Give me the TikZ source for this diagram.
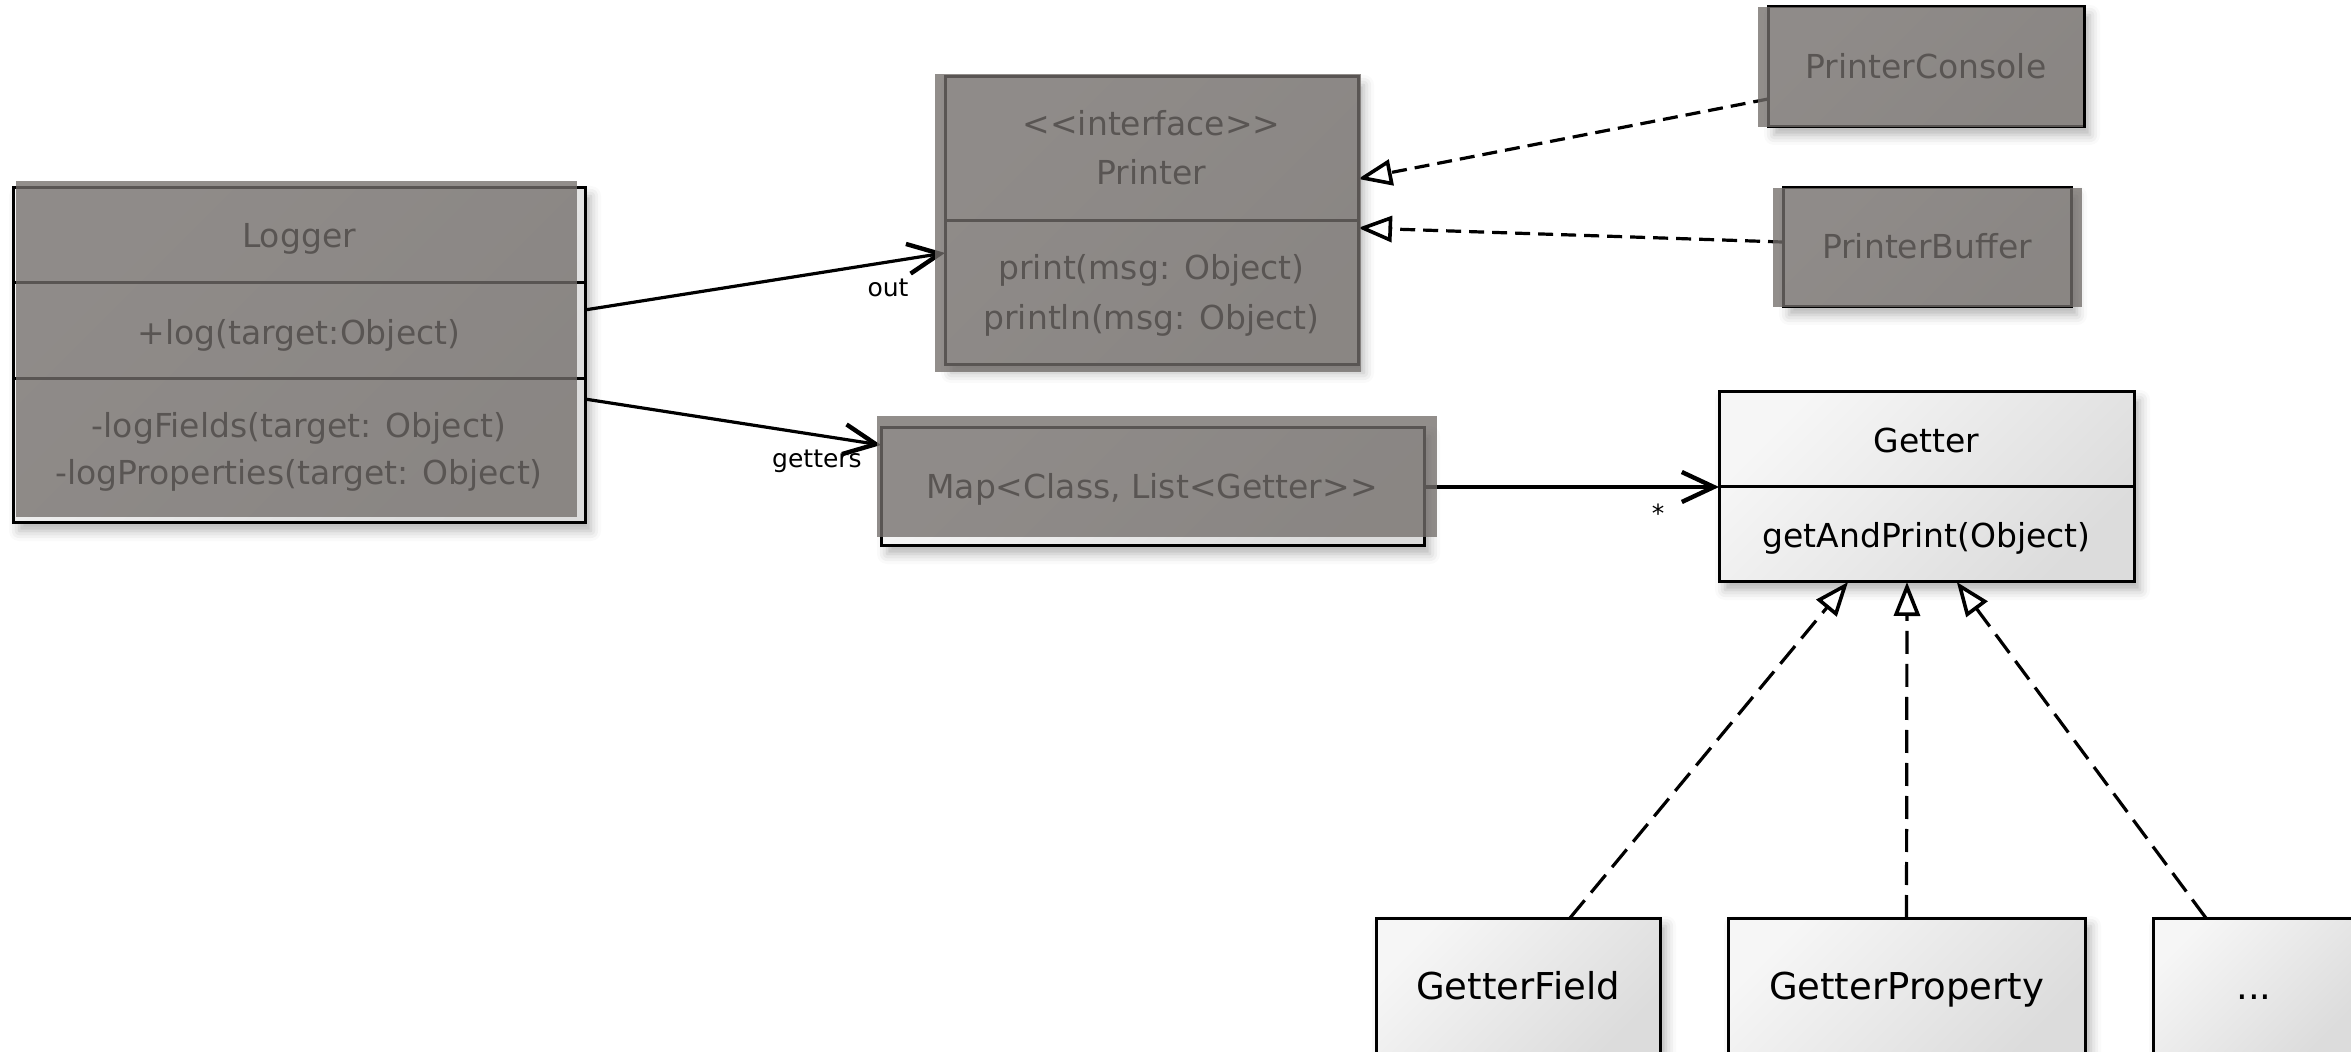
\documentclass[tikz,border=0pt]{standalone}
\usepackage{fontspec}
\setmainfont{DejaVu Sans}
\usetikzlibrary{arrows.meta,calc,shadows.blur}

\definecolor{hilite}{RGB}{115,110,107}
\definecolor{boxlight}{RGB}{246,246,246}
\definecolor{boxdark}{RGB}{220,220,220}

\tikzset{
  umlbox/.style={draw=black, line width=1.5pt, rectangle, inner sep=0pt, outer sep=0pt,
    top color=boxlight, bottom color=boxdark, shading angle=45,
    blur shadow={shadow xshift=3pt, shadow yshift=-4pt, shadow blur radius=5pt, shadow opacity=30}},
  divider/.style={line width=1.5pt},
  txt/.style={anchor=base, inner sep=0pt, font=\fontsize{16.5}{20}\selectfont},
  bigtxt/.style={anchor=base, inner sep=0pt, font=\fontsize{18.5}{22}\selectfont},
  lbl/.style={anchor=base, inner sep=0pt, font=\fontsize{12.5}{15}\selectfont},
  assoc/.style={line width=1.6pt, -{Straight Barb[length=16pt,width=15pt,line width=2.2pt]}},
  realize/.style={line width=1.6pt, dash pattern=on 7.5pt off 4pt,
    -{Triangle[length=17pt,width=13pt,fill=white,line width=1.8pt]}},
  realizelong/.style={realize, dash pattern=on 11.5pt off 5pt},
  hilite/.style={fill=hilite, fill opacity=0.78},
}

\begin{document}
\begin{tikzpicture}[x=0.5pt,y=-0.5pt]
\useasboundingbox (0,0) rectangle (2351,1052);
\begin{scope}
\clip (0,0) rectangle (2351,1052);

% ---- class boxes ----
\node[umlbox, minimum width=286pt, minimum height=167.5pt] (logger) at (299,355.5) {};
\node[umlbox, minimum width=206.5pt, minimum height=144pt] (printer) at (1151.5,221) {};
\node[umlbox, minimum width=158pt, minimum height=60pt] (console) at (1926,67) {};
\node[umlbox, minimum width=144pt, minimum height=59.5pt] (buffer) at (1927,247.5) {};
\node[umlbox, minimum width=271.5pt, minimum height=59pt] (map) at (1152.5,487) {};
\node[umlbox, minimum width=207.5pt, minimum height=95pt] (getter) at (1926.5,487) {};
\node[umlbox, minimum width=142pt, minimum height=70pt] (gfield) at (1518,988) {};
\node[umlbox, minimum width=178.5pt, minimum height=70pt] (gprop) at (1906.5,988) {};
\node[umlbox, minimum width=101pt, minimum height=70pt] (gdots) at (2254,988) {};

% ---- compartment dividers ----
\draw[divider] (logger.west |- 0,283) -- (logger.east |- 0,283);
\draw[divider] (logger.west |- 0,379) -- (logger.east |- 0,379);
\draw[divider] (printer.west) -- (printer.east);
\draw[divider] (getter.west) -- (getter.east);

% ---- texts ----
\node[txt] (loggerName) at (299,248) {Logger};
\node[txt] (loggerLog) at (299,345) {+log(target:Object)};
\node[txt] (loggerFields) at (299,438) {-logFields(target: Object)};
\node[txt] (loggerProps) at (299,485) {-logProperties(target: Object)};

\node[txt] (printerStereo) at (1151.5,136) {<{}<interface>{}>};
\node[txt] (printerName) at (1151.5,185) {Printer};
\node[txt] (printerPrint) at (1151.5,280) {print(msg: Object)};
\node[txt] (printerPrintln) at (1151.5,330) {println(msg: Object)};

\node[txt] (consoleName) at (1926,79) {PrinterConsole};
\node[txt] (bufferName) at (1927,259) {PrinterBuffer};
\node[txt] (mapName) at (1152,499) {Map<Class, List<Getter>{}>};

\node[txt] (getterName) at (1926.5,453) {Getter};
\node[txt] (getterOp) at (1926.5,548) {getAndPrint(Object)};

\node[bigtxt] (gfieldName) at (1518,999) {GetterField};
\node[bigtxt] (gpropName) at (1906.5,999) {GetterProperty};
\node[bigtxt] (gdotsName) at (2254,999) {...};

% ---- connectors ----
\draw[assoc] ($(logger.north east)!0.364!(logger.south east)$) -- ($(printer.north west)!0.611!(printer.south west)$);
\draw[assoc] ($(logger.north east)!0.63!(logger.south east)$) -- ($(map.north west)!0.144!(map.south west)$);
\draw[assoc] (map.east) -- (getter.west);

\draw[realize] ($(console.north west)!0.767!(console.south west)$) -- ($(printer.north east)!0.354!(printer.south east)$);
\draw[realize] ($(buffer.north west)!0.454!(buffer.south west)$) -- ($(printer.north east)!0.524!(printer.south east)$);

\draw[realizelong] ($(gfield.north west)!0.683!(gfield.north east)$) -- ($(getter.south west)!0.311!(getter.south east)$);
\draw[realizelong] (gprop.north) -- ($(getter.south west)!0.453!(getter.south east)$);
\draw[realizelong] ($(gdots.north west)!0.262!(gdots.north east)$) -- ($(getter.south west)!0.573!(getter.south east)$);

% ---- role and multiplicity labels ----
\node[lbl] (outLbl) at (888,297) {out};
\node[lbl] (gettersLbl) at (817,468) {getters};
\node[lbl] (manyLbl) at (1658,523) {*};

% ---- translucent highlight over the selected elements ----
\fill[hilite] (16,181) rectangle (577,517);
\fill[hilite] (935,74) rectangle (1361,372);
\fill[hilite] (1758,7) rectangle (2083,127);
\fill[hilite] (1773,188) rectangle (2082,307);
\fill[hilite] (877,416) rectangle (1437,537);
\end{scope}
\end{tikzpicture}
\end{document}
